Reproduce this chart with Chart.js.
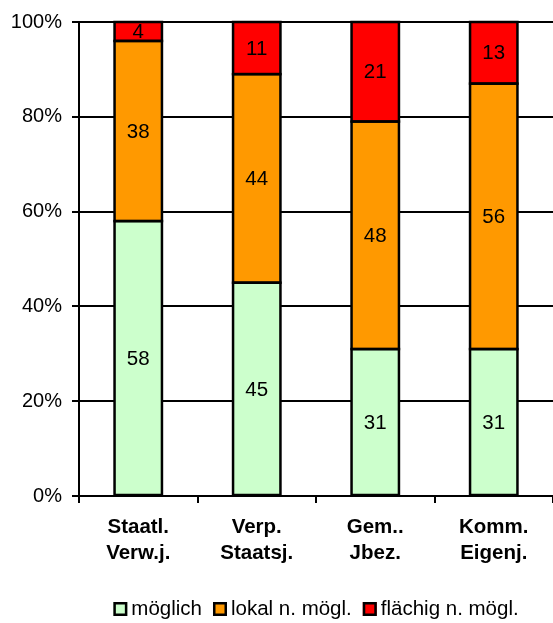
<!DOCTYPE html>
<html>
<head>
<meta charset="utf-8">
<script src="https://cdn.jsdelivr.net/npm/chart.js@4/dist/chart.umd.min.js"></script>
<style>
html,body{margin:0;padding:0;background:#fff;}
#wrap{width:553px;height:623px;}
</style>
</head>
<body>
<div id="wrap"><canvas id="c" width="553" height="623"></canvas></div>
<script>
const categories = [["Staatl.","Verw.j."],["Verp.","Staatsj."],["Gem..","Jbez."],["Komm.","Eigenj."]];
const seriesNames = ["möglich","lokal n. mögl.","flächig n. mögl."];
const moeglich = [58,45,31,31];
const lokal = [38,44,48,56];
const flaechig = [4,11,21,13];
const yTicks = [0,20,40,60,80,100];

const FONT = "'Liberation Sans', Arial, sans-serif";

const labelPlugin = {
  id:'valueLabels',
  afterDatasetsDraw(chart){
    const ctx = chart.ctx;
    ctx.save();
    // outlines of every segment
    ctx.strokeStyle = '#000';
    ctx.lineWidth = 2.5;
    chart.data.datasets.forEach((ds,i)=>{
      chart.getDatasetMeta(i).data.forEach(el=>{
        const x0 = el.x - el.width/2;
        ctx.strokeRect(x0, Math.min(el.y, el.base), el.width, Math.abs(el.base - el.y));
      });
    });
    ctx.font = "20.5px " + FONT;
    ctx.fillStyle = "#000";
    ctx.textAlign = "center";
    ctx.textBaseline = "middle";
    chart.data.datasets.forEach((ds,i)=>{
      const meta = chart.getDatasetMeta(i);
      meta.data.forEach((el,j)=>{
        ctx.fillText(String(ds.data[j]), el.x, (el.y + el.base)/2 + 1);
      });
    });
    ctx.restore();
  }
};

const legendPlugin = {
  id:'customLegend',
  afterDraw(chart){
    const ctx = chart.ctx;
    const ca = chart.chartArea;
    ctx.save();
    ctx.font = "20.5px " + FONT;
    ctx.textBaseline = "middle";
    ctx.textAlign = "left";
    const box = 14, gapText = 4, gapItem = 11;
    const items = chart.data.datasets.map(ds=>({label:ds.label,color:ds.backgroundColor,w:ctx.measureText(ds.label).width}));
    let total = 0;
    items.forEach((it,i)=>{ total += box + gapText + it.w + (i<items.length-1?gapItem:0); });
    let x = (ca.left + ca.right)/2 - total/2;
    const cy = 609;
    items.forEach(it=>{
      ctx.fillStyle = it.color;
      ctx.fillRect(x, cy - box/2, box, box);
      ctx.lineWidth = 2.5;
      ctx.strokeStyle = '#000';
      ctx.strokeRect(x+1.25, cy - box/2 + 1.25, box-2.5, box-2.5);
      ctx.fillStyle = '#000';
      ctx.fillText(it.label, x + box + gapText, cy);
      x += box + gapText + it.w + gapItem;
    });
    ctx.restore();
  }
};

const dsBase = {borderWidth:0,barPercentage:0.4,categoryPercentage:1,inflateAmount:0};

new Chart(document.getElementById('c'),{
  type:'bar',
  data:{
    labels:categories,
    datasets:[
      Object.assign({label:seriesNames[0],data:moeglich,backgroundColor:'#CCFFCC'},dsBase),
      Object.assign({label:seriesNames[1],data:lokal,backgroundColor:'#FF9900'},dsBase),
      Object.assign({label:seriesNames[2],data:flaechig,backgroundColor:'#FF0000'},dsBase)
    ]
  },
  options:{
    responsive:false,
    animation:false,
    devicePixelRatio:1,
    layout:{padding:{top:22,right:0,bottom:36,left:0}},
    plugins:{
      legend:{display:false},
      tooltip:{enabled:false}
    },
    scales:{
      y:{
        stacked:true,min:0,max:100,
        afterBuildTicks(s){ s.ticks = yTicks.map(v=>({value:v})); },
        afterFit(s){ s.width = 79; },
        ticks:{color:'#000',font:{family:FONT,size:20},padding:10,callback:v=>v+'%'},
        grid:{color:'#000',lineWidth:2,tickLength:7},
        border:{color:'#000',width:2}
      },
      x:{
        stacked:true,
        afterFit(s){ s.height = 91; },
        ticks:{color:'#000',font:{family:FONT,size:20.5,weight:'bold',lineHeight:1.27},padding:11,maxRotation:0},
        grid:{drawOnChartArea:false,color:'#000',lineWidth:2,tickLength:7,offset:true},
        border:{color:'#000',width:2}
      }
    }
  },
  plugins:[labelPlugin,legendPlugin]
});
</script>
</body>
</html>
